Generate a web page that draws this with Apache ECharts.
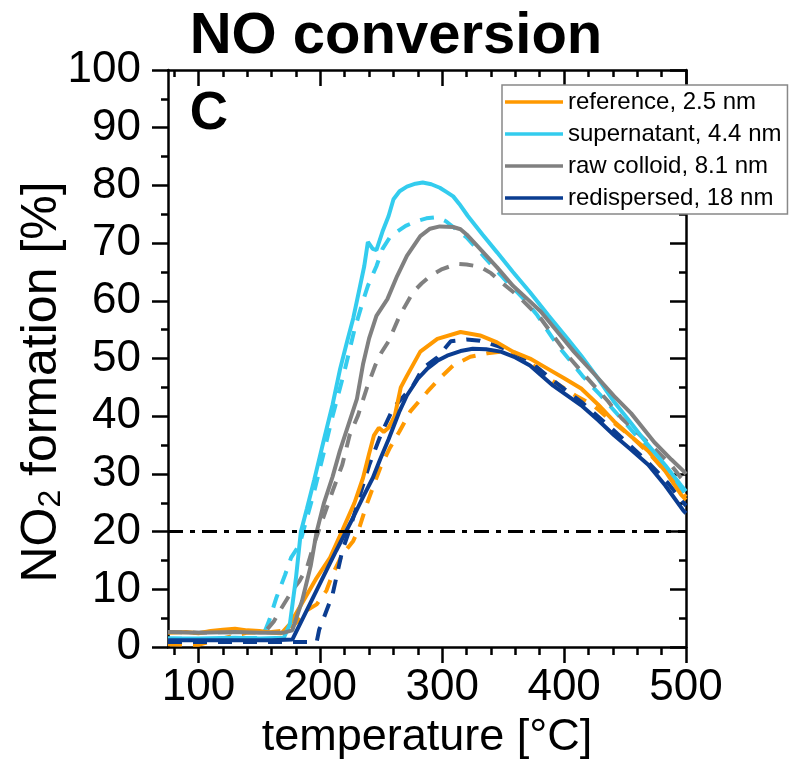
<!DOCTYPE html>
<html>
<head>
<meta charset="utf-8">
<script src="https://cdn.jsdelivr.net/npm/echarts@6/dist/echarts.min.js"></script>
<style>html,body{margin:0;padding:0;background:#fff}#c{width:792px;height:765px}</style>
</head>
<body>
<div id="c"></div>
<script>
// ---- data (temperature °C, NO2 formation %) ----
const seriesNames = ['reference, 2.5 nm', 'supernatant, 4.4 nm', 'raw colloid, 8.1 nm', 'redispersed, 18 nm'];
const colors = ['#FF9900', '#33CCEE', '#808080', '#0B3D91'];

const refSolid = [[75,2.5],[90,2.6],[100,2.4],[110,2.8],[120,3.0],[130,3.2],[140,2.9],[150,2.8],[160,2.5],[168,2.4],[175,4],[186,8],[197,12],[208,15.5],[218,20.2],[228,25],[235,29.3],[240,33.5],[244,36.7],[248,38],[252,37.3],[256,38],[261,40],[266,45],[271,47],[282,51.2],[296,53.4],[315,54.6],[331,54],[345,52.8],[358,51.2],[372,50],[386,48.3],[400,46.6],[414,44.8],[428,42],[441,39.1],[455,36.5],[469,34],[483,30.5],[496,26.4],[500,25.5]];
const refDashed = [[75,0.5],[100,0.4],[120,1.5],[140,2.5],[160,2.6],[175,3],[189,6.4],[197,7.4],[205,9.8],[210,12.6],[218,16],[227,18.4],[232,20.7],[238,24.7],[243,27.6],[249,31],[257,34.5],[265,37.4],[274,40.9],[288,44.3],[298,46.6],[309,48.8],[323,50.3],[337,50.9],[348,51.2],[360,50.5],[375,48.8],[390,46.2],[410,43.5],[424,41.9],[436,39.7],[455,36.5],[470,33.5],[488,29.3],[496,27],[500,26]];
const supSolid = [[75,1.5],[100,1.5],[130,1.6],[150,1.5],[170,1.6],[175,4],[180,12],[184,20],[189,24],[195,29],[203,36],[210,42],[216,48],[222,53],[227,57],[232,62],[236,66],[239,70.2],[243,69],[246,68.8],[251,72],[256,74.7],[260,77.6],[265,79],[271,79.8],[278,80.3],[284,80.5],[291,80.2],[298,79.6],[304,78.8],[309,78.1],[314,76.8],[321,74.7],[333,71.5],[345,68.4],[358,65],[372,61.5],[387,57.5],[403,53.4],[414,50.5],[428,46.5],[441,42.5],[455,38.8],[469,35],[483,31.5],[496,28],[500,27]];
const supDashed = [[75,1.5],[100,1.4],[130,1.5],[150,1.6],[155,3],[158,4.6],[164,8.6],[171,12.5],[176,15.5],[183,17.8],[189,22.4],[195,27],[202,33],[210,40],[220,48],[228,55],[235,60],[239,62.6],[246,66],[251,69],[257,71],[263,72],[270,73],[279,73.8],[287,74.3],[296,74.5],[303,73.8],[309,72.8],[320,71],[335,67.5],[350,64],[367,60.3],[378,57.5],[391,53.4],[397,51.7],[415,47],[430,43.6],[452,38.4],[470,34],[488,29.8],[498,26.4],[500,25.8]];
const rawSolid = [[75,2.6],[100,2.5],[130,2.6],[150,2.5],[170,2.5],[177,2.9],[185,8],[192,14],[197,20],[203,25],[210,29.5],[216,34],[223,38.5],[230,43],[235,49],[240,53.5],[246,57.4],[255,60.3],[263,64.3],[271,67.8],[282,71.2],[290,72.5],[298,72.9],[309,72.8],[315,72.4],[320,71.5],[331,69],[345,65.8],[358,62.6],[370,60.3],[381,58.1],[395,54.5],[408,51.2],[424,47.5],[441,43.5],[455,40.5],[474,35.5],[488,32.5],[498,30.5],[500,30]];
const rawDashed = [[75,2.6],[100,2.5],[130,2.6],[150,2.6],[156,3],[162,4.5],[167,6.4],[177,9.8],[183,11.5],[189,13.8],[195,18],[200,21],[210,27],[218,31.6],[224,36.7],[231,40.2],[238,44.8],[245,48.8],[250,51],[256,53],[265,57.4],[276,61.5],[283,63],[290,64.3],[300,65.5],[312,66.4],[320,66.3],[331,65.9],[340,64.8],[348,63.3],[362,60.9],[372,58.8],[381,56.9],[391,54],[405,50],[419,46.6],[436,42.6],[447,39.7],[465,36.2],[476,34],[488,31.5],[496,29.3],[500,28.5]];
const redSolid = [[75,1.2],[100,1.2],[130,1.2],[160,1.2],[177,1.3],[185,4.7],[195,9],[205,13.3],[213,16.7],[220,19.6],[227,22.5],[235,26],[243,29.3],[249,32.5],[256,36],[265,40.9],[271,43.6],[280,46.5],[288,48.3],[296,49.6],[304,50.5],[315,51.3],[325,51.7],[336,51.6],[348,51.2],[360,50.2],[372,48.8],[391,45.3],[414,41.9],[428,39.3],[441,36.7],[455,34.2],[469,31.6],[483,28],[498,23.6],[500,23.2]];
const redDashed = [[75,0.9],[100,0.9],[130,0.9],[160,0.9],[180,0.9],[197,0.9],[199,3],[202,4.6],[210,9.1],[218,16.7],[225,21],[232,26],[240,31.5],[250,37],[260,41.5],[272,44.3],[276,45.3],[284,48.3],[296,50.2],[307,53],[320,53.3],[331,53.1],[345,52.2],[358,51.2],[372,49.5],[391,46.2],[414,42.5],[441,37.5],[469,32],[485,28.5],[500,24.5]];

const thresholdLevel = 20;
const xMajorTicks = [100, 200, 300, 400, 500];
const xMinorTicks = [80,100,120,140,160,180,200,220,240,260,280,300,320,340,360,380,400,420,440,460,480,500];
const xRange = [75, 500];
const yRange = [0, 100];

// ---- chart ----
const chart = echarts.init(document.getElementById('c'), null, {renderer: 'canvas'});
const FONT = 'Liberation Sans, Arial, sans-serif';
const axisLineStyle = {color: '#000', width: 2.5};

function xAx(pos, ticks, len, inside, showLine, showLabel, extra) {
  return Object.assign({
    type: 'value', position: pos, min: xRange[0], max: xRange[1],
    axisLine: {show: showLine, onZero: false, lineStyle: axisLineStyle},
    axisTick: {show: true, inside: inside, length: len, customValues: ticks, lineStyle: {color: '#000', width: 2.5}},
    axisLabel: {show: showLabel, customValues: xMajorTicks, fontSize: 44, color: '#000', fontFamily: FONT, margin: 19},
    splitLine: {show: false}
  }, extra || {});
}

const solidSets = [refSolid, supSolid, rawSolid, redSolid];
const dashedSets = [refDashed, supDashed, rawDashed, redDashed];
const series = [];
dashedSets.forEach((d, i) => {
  series.push({
    name: seriesNames[i] + ' ', type: 'line', data: d, showSymbol: false, symbol: 'none',
    lineStyle: {color: colors[i], width: 4, type: [14, 11]}, itemStyle: {color: colors[i]}, z: 2
  });
});
solidSets.forEach((d, i) => {
  series.push({
    name: seriesNames[i], type: 'line', data: d, showSymbol: false, symbol: 'none',
    lineStyle: {color: colors[i], width: 4}, itemStyle: {color: colors[i]}, z: 3
  });
});
series[0].markLine = {
  silent: true, symbol: 'none', label: {show: false},
  lineStyle: {color: '#000', width: 3, type: [15, 7, 5, 7]},
  data: [{yAxis: thresholdLevel}]
};

chart.setOption({
  animation: false,
  backgroundColor: '#fff',
  title: {text: 'NO conversion', left: 'center', top: 3, textStyle: {fontSize: 58, fontWeight: 'bold', color: '#000', fontFamily: FONT}},
  grid: {left: 168, right: 106, top: 70, bottom: 115, containLabel: false},
  legend: {
    data: seriesNames, orient: 'vertical', left: 502, top: 85,
    icon: 'rect',
    backgroundColor: '#fff', borderColor: '#888', borderWidth: 1.5,
    padding: [5, 6, 4, 3], itemWidth: 58, itemHeight: 3.5, itemGap: 8, itemTextGap: 6,
    textStyle: {fontSize: 24, color: '#000', fontFamily: FONT, lineHeight: 24}
  },
  xAxis: [
    xAx('bottom', xMajorTicks, 16, false, true, true, {
      name: 'temperature [°C]', nameLocation: 'middle', nameGap: 67,
      nameTextStyle: {fontSize: 45, color: '#000', fontFamily: FONT}
    }),
    xAx('bottom', xMinorTicks, 8, false, false, false),
    xAx('top', xMajorTicks, 16, true, true, false),
    xAx('top', xMinorTicks, 7, true, false, false)
  ],
  yAxis: [
    {
      type: 'value', position: 'left', min: yRange[0], max: yRange[1], interval: 10,
      axisLine: {show: true, onZero: false, lineStyle: axisLineStyle},
      axisTick: {show: true, inside: false, length: 16, lineStyle: {color: '#000', width: 2.5}},
      minorTick: {show: true, splitNumber: 2, length: 7, lineStyle: {color: '#000', width: 2.5}},
      axisLabel: {fontSize: 44, color: '#000', fontFamily: FONT, margin: 27},
      splitLine: {show: false}
    },
    {
      type: 'value', position: 'right', min: yRange[0], max: yRange[1], interval: 10,
      axisLine: {show: true, onZero: false, lineStyle: axisLineStyle},
      axisTick: {show: true, inside: true, length: 16, lineStyle: {color: '#000', width: 2.5}},
      minorTick: {show: true, splitNumber: 2, length: 7, lineStyle: {color: '#000', width: 2.5}},
      axisLabel: {show: false}, splitLine: {show: false}
    }
  ],
  graphic: [{
    type: 'text', x: 209, y: 114,
    style: {text: 'C', fontSize: 53, fontWeight: 'bold', fill: '#000', fontFamily: FONT, align: 'center', verticalAlign: 'middle'}
  }, {
    type: 'text', x: 42, y: 382, rotation: Math.PI / 2,
    style: {
      text: '{a|NO}{s|2}{a| formation [%]}', align: 'center', verticalAlign: 'middle', fill: '#000', fontFamily: FONT,
      rich: {
        a: {fontSize: 50, fontFamily: FONT, fill: '#000', lineHeight: 50},
        s: {fontSize: 32, fontFamily: FONT, fill: '#000', lineHeight: 22, verticalAlign: 'bottom'}
      }
    }
  }],
  series: series
});
</script>
</body>
</html>
